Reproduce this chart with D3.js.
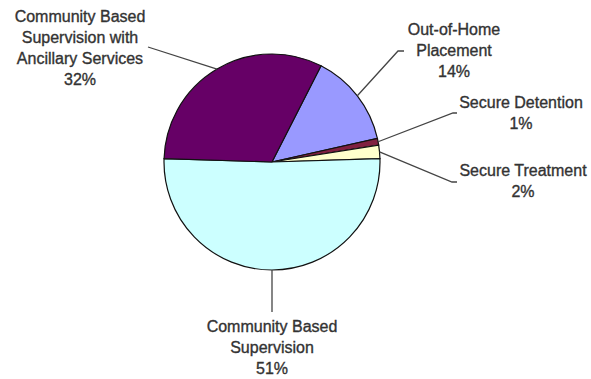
<!DOCTYPE html>
<html><head><meta charset="utf-8">
<script src="https://cdn.jsdelivr.net/npm/d3@7"></script>
<style>body{margin:0;background:#fff}svg{display:block}</style>
</head><body>
<script>
const categories = ["Out-of-Home Placement","Secure Detention","Secure Treatment","Community Based Supervision","Community Based Supervision with Ancillary Services"];
const values = [14, 1, 2, 51, 32];
const labelLines = [["Out-of-Home","Placement","14%"],["Secure Detention","1%"],["Secure Treatment","2%"],["Community Based","Supervision","51%"],["Community Based","Supervision with","Ancillary Services","32%"]];
const colors = ["#9999FF","#802040","#FFFFCC","#CCFFFF","#660066"];

const W=591,H=379, cx=272, cy=162, R=108;
const svg=d3.select("body").append("svg").attr("width",W).attr("height",H);
const start = 27*Math.PI/180;
const pie=d3.pie().sort(null).startAngle(start).endAngle(start+2*Math.PI);
const arcs=pie(values);
const arc=d3.arc().innerRadius(0).outerRadius(R);
const g=svg.append("g").attr("transform",`translate(${cx},${cy})`);
g.selectAll("path").data(arcs).join("path").attr("d",arc)
 .attr("fill",(d,i)=>colors[i]).attr("stroke","#111").attr("stroke-width",1.2);

const lab = [
 {x:454, y:35, pts:[[398,51],[404,51]]},
 {x:521, y:108, pts:[[453,113],[457,113]]},
 {x:523, y:176, pts:[[452,182],[457,182]]},
 {x:272, y:332, pts:[[272,312]]},
 {x:80, y:22, pts:[[148,47]]}
];
const pt = (d,r)=>{const a=(d.startAngle+d.endAngle)/2;return [cx+r*Math.sin(a), cy-r*Math.cos(a)];};
arcs.forEach((d,i)=>{
  const p0=pt(d,R);
  svg.append("path").attr("d",d3.line()([p0].concat(lab[i].pts))).attr("fill","none").attr("stroke","#444").attr("stroke-width",1.3);
  const t=svg.append("text").attr("x",lab[i].x).attr("y",lab[i].y).attr("text-anchor","middle")
   .attr("font-family","Liberation Sans, Arial, sans-serif").attr("font-size",16).attr("fill","#333")
   .attr("stroke","#333").attr("stroke-width",0.35);
  labelLines[i].forEach((s,k)=>t.append("tspan").attr("x",lab[i].x).attr("dy",k?21:0).text(s));
});
</script>
</body></html>
